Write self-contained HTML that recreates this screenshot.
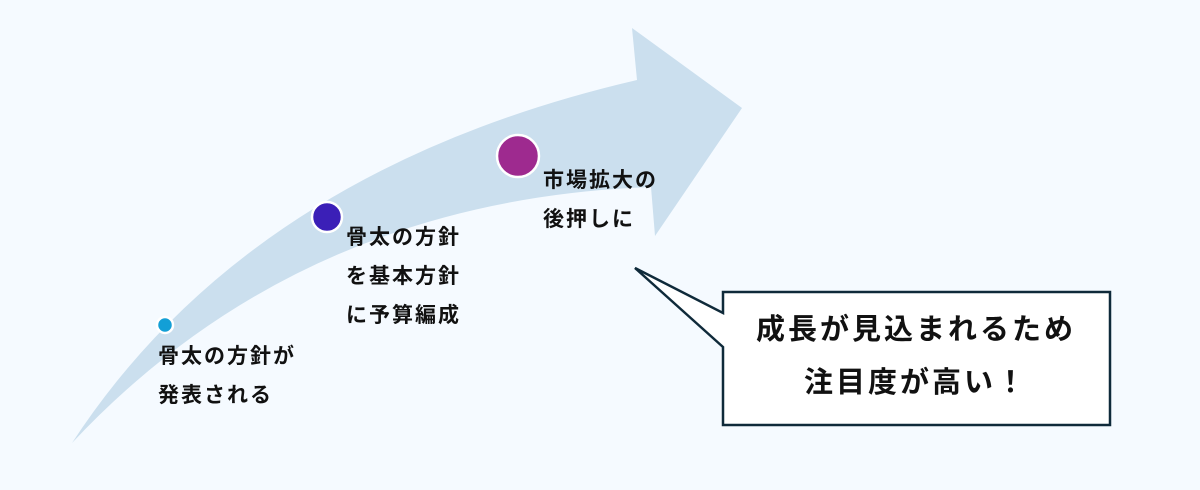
<!DOCTYPE html>
<html><head><meta charset="utf-8"><style>
html,body{margin:0;padding:0;background:#f5faff;}
.w{position:relative;width:1200px;height:490px;overflow:hidden;font-family:"Liberation Sans","Noto Sans CJK JP",sans-serif;color:#111;}
.t{position:absolute;font-size:21px;line-height:39px;font-weight:bold;letter-spacing:2px;}
.c{position:absolute;left:722px;top:291px;width:388px;height:134px;text-align:center;font-size:29px;line-height:53px;font-weight:bold;letter-spacing:3px;padding-top:13px;box-sizing:border-box;}
</style></head><body><div class="w">
<svg width="1200" height="490" style="position:absolute;left:0;top:0">
<path d="M72,443 Q250,170 637,80 L632,28 L742,108 L655,236 L651,187 Q300,200 72,443 Z" fill="#cbdfee"/>
<path d="M635,268 L723,313 L723,292 L1110,292 L1110,425 L723,425 L723,347 Z" fill="#fff" stroke="#0f2a3a" stroke-width="2.5" stroke-linejoin="miter"/>
<circle cx="165" cy="325" r="8" fill="#139fd6" stroke="#fff" stroke-width="2.5"/>
<circle cx="327" cy="217" r="15" fill="#3b1fb7" stroke="#fff" stroke-width="2.5"/>
<circle cx="518" cy="156" r="21" fill="#9e2a8f" stroke="#fff" stroke-width="2.5"/>
</svg>
<div class="t" style="left:158px;top:337px">骨太の方針が<br>発表される</div>
<div class="t" style="left:346px;top:218px">骨太の方針<br>を基本方針<br>に予算編成</div>
<div class="t" style="left:543px;top:161px">市場拡大の<br>後押しに</div>
<div class="c">成長が見込まれるため<br>注目度が高い！</div>
</div></body></html>
